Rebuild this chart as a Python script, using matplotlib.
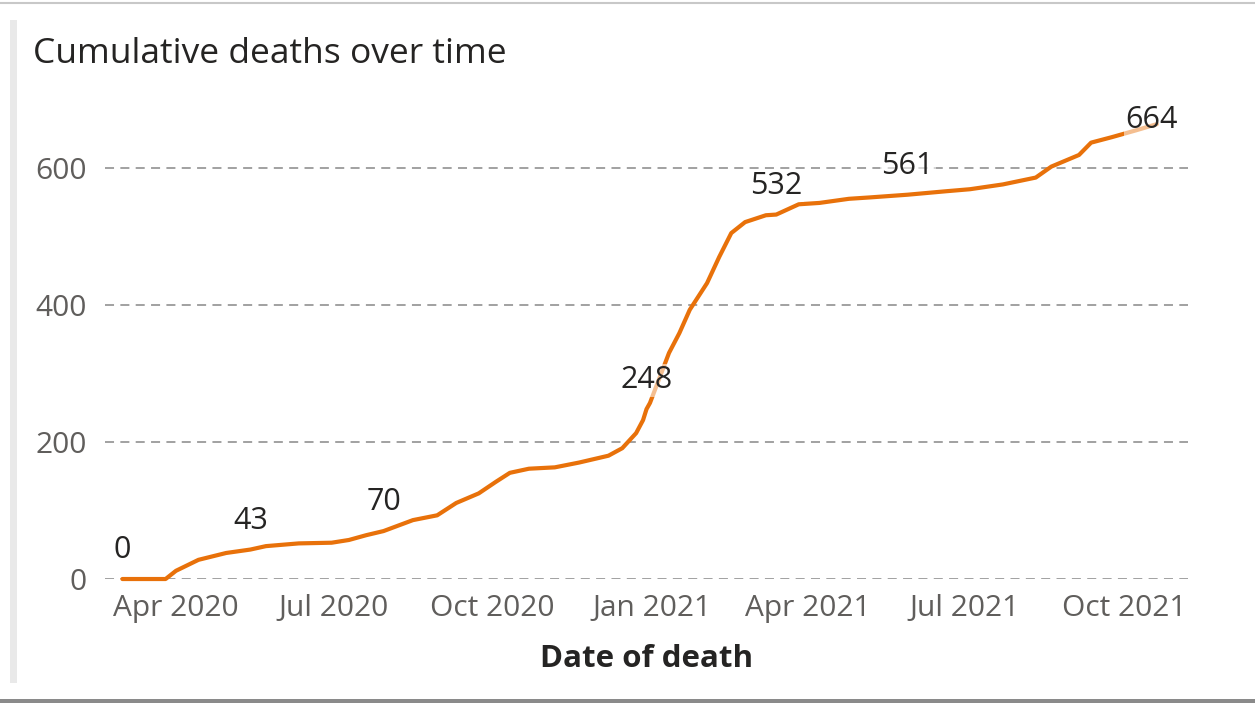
import pandas as pd
import matplotlib
matplotlib.use("Agg")
import matplotlib.pyplot as plt
import matplotlib.dates as mdates
from matplotlib.lines import Line2D
from matplotlib.patches import Rectangle

plt.rcParams['font.family'] = ['Open Sans', 'DejaVu Sans']

# Cumulative deaths
dates = [
    '2020-03-01', '2020-03-26', '2020-04-01', '2020-04-14', '2020-04-30',
    '2020-05-14', '2020-05-23', '2020-06-11', '2020-06-30', '2020-07-10',
    '2020-07-20', '2020-07-30', '2020-08-16', '2020-08-30', '2020-09-10',
    '2020-09-23', '2020-10-03', '2020-10-11', '2020-10-22', '2020-11-06',
    '2020-11-20', '2020-12-07', '2020-12-15', '2020-12-23', '2020-12-27',
    '2020-12-29', '2020-12-31', '2021-01-11', '2021-01-17', '2021-01-23',
    '2021-02-02', '2021-02-09', '2021-02-16', '2021-02-24', '2021-03-08',
    '2021-03-14', '2021-03-27', '2021-04-08', '2021-04-25', '2021-05-07',
    '2021-05-29', '2021-06-20', '2021-07-04', '2021-07-23', '2021-08-11',
    '2021-08-20', '2021-09-05', '2021-09-12', '2021-09-24', '2021-10-08',
    '2021-10-20',
]
deaths = [
    0, 0, 12, 28, 38,
    43, 48, 52, 53, 57,
    64, 70, 86, 93, 111,
    125, 142, 155, 161, 163,
    170, 180, 191, 213, 232,
    248, 257, 330, 359, 393,
    432, 470, 505, 521, 531,
    532, 547, 549, 555, 557,
    561, 566, 569, 576, 586,
    602, 619, 637, 645, 655,
    664,
]
# dates that carry a data label
label_dates = ['2020-03-01', '2020-05-14', '2020-07-30', '2020-12-29',
               '2021-03-14', '2021-05-29', '2021-10-20']
tick_dates = ['2020-04-01', '2020-07-01', '2020-10-01', '2021-01-01',
              '2021-04-01', '2021-07-01', '2021-10-01']

df = pd.DataFrame({'date': pd.to_datetime(dates), 'deaths': deaths})

fig = plt.figure(figsize=(12.55, 7.05), dpi=100)
ax = fig.add_axes([0.0837, 0.1787, 0.8629, 0.6802])

ax.plot(df['date'], df['deaths'], color='#E8710A', linewidth=3.0,
        solid_capstyle='round', solid_joinstyle='round', clip_on=False,
        zorder=3)

ax.set_ylim(0, 700)
ax.set_xlim(pd.Timestamp('2020-02-20'), pd.Timestamp('2021-11-07'))
ax.set_yticks([0, 200, 400, 600])
ax.set_xticks(pd.to_datetime(tick_dates))
ax.xaxis.set_major_formatter(mdates.DateFormatter('%b %Y'))
ax.grid(axis='y', linestyle=(0, (5, 3.5)), color='#9a9a9a', linewidth=1.3)
ax.set_axisbelow(True)
for s in ax.spines.values():
    s.set_visible(False)
ax.tick_params(length=0, labelsize=21.5, labelcolor='#605E5C')
ax.tick_params(axis='y', pad=13)
ax.tick_params(axis='x', pad=11)

ax.set_xlabel('Date of death', fontsize=22.5, fontweight='bold',
              color='#252423', labelpad=15)

for d in label_dates:
    row = df[df['date'] == pd.Timestamp(d)].iloc[0]
    off = (0, 29)
    if d == label_dates[-1]:
        off = (-5, 4)
    ax.annotate(str(row['deaths']), (row['date'], row['deaths']),
                xytext=off, textcoords='offset pixels', ha='center',
                va='center', fontsize=22, color='#252423', zorder=4,
                bbox=dict(boxstyle='square,pad=0.05', fc='white',
                          ec='none', alpha=0.55))

fig.text(0.0263, 0.923, 'Cumulative deaths over time', fontsize=25.5,
         fontweight='medium', color='#252423', ha='left', va='center')

# visual frame
fig.add_artist(Line2D([0, 1], [0.996, 0.996], color='#c8c8c8', lw=1.5))
fig.add_artist(Rectangle((0.008, 0.031), 0.0055, 0.94, color='#e9e9e9',
                         lw=0))
fig.add_artist(Rectangle((0, 0.003), 1, 0.006, color='#8a8a8a', lw=0))

fig.savefig('out.png', dpi=100)
